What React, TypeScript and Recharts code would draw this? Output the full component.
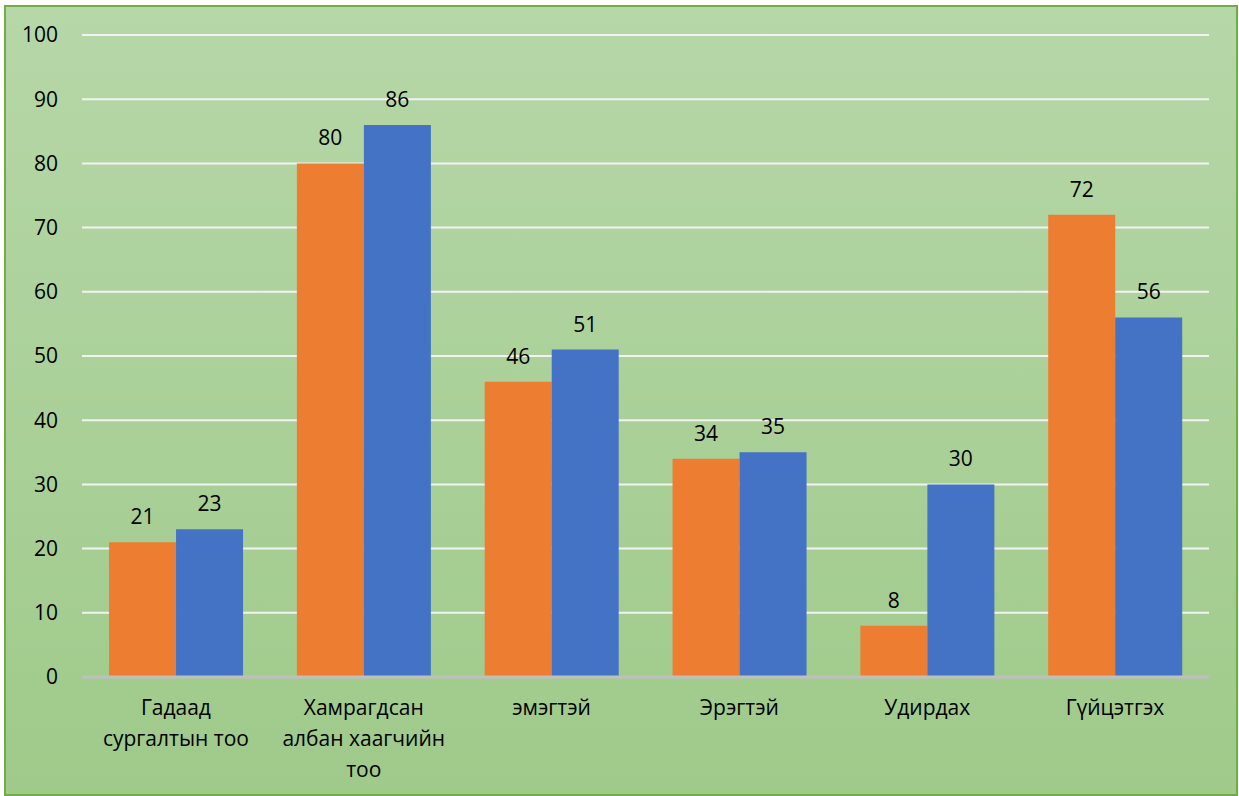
import React from 'react'
import { BarChart, Bar, XAxis, YAxis, CartesianGrid, LabelList } from 'recharts'

const categories = [
    'Гадаад\nсургалтын тоо',
    'Хамрагдсан\nалбан хаагчийн\nтоо',
    'эмэгтэй',
    'Эрэгтэй',
    'Удирдах',
    'Гүйцэтгэх',
]
const series1 = [21, 80, 46, 34, 8, 72]
const series2 = [23, 86, 51, 35, 30, 56]
const yTicks = [0, 10, 20, 30, 40, 50, 60, 70, 80, 90, 100]

const data = categories.map((name, i) => ({ name, s1: series1[i], s2: series2[i] }))

const FONT = '"Open Sans", "Noto Sans", sans-serif'
const FS = 21

const CategoryTick = ({ x, y, payload }: any) => {
    const lines = String(payload.value).split('\n')
    return (
        <text x={x} y={y} textAnchor="middle" fill="#000" fontSize={FS} fontFamily={FONT}>
            {lines.map((line, i) => (
                <tspan key={i} x={x} dy={i === 0 ? 30 : 31}>{line}</tspan>
            ))}
        </text>
    )
}

export default function App() {
    return (
        <div
            style={{
                position: 'fixed',
                left: 4,
                top: 5,
                width: 1234,
                height: 791,
                boxSizing: 'border-box',
                border: '2px solid #70AD47',
                background: 'linear-gradient(to bottom, #B6D7A8, #9FCA8A)',
            }}
        >
            <div style={{ position: 'absolute', left: -2, top: -2 }}>
                <BarChart
                    width={1234}
                    height={791}
                    data={data}
                    margin={{ top: 30, right: 29, bottom: 19, left: 0 }}
                    barCategoryGap="14.4%"
                    barGap={0}
                >
                    <CartesianGrid vertical={false} stroke="#F2F2F2" strokeWidth={2} />
                    <XAxis
                        dataKey="name"
                        height={100}
                        axisLine={{ stroke: '#BFBFBF', strokeWidth: 3 }}
                        tickLine={false}
                        tick={<CategoryTick />}
                        interval={0}
                    />
                    <YAxis
                        domain={[0, 100]}
                        ticks={yTicks}
                        width={78}
                        axisLine={false}
                        tickLine={false}
                        tickMargin={18}
                        tick={{ fill: '#000', fontSize: FS, fontFamily: FONT }}
                    />
                    <Bar dataKey="s1" name="Цуврал 1" fill="#ED7D31" isAnimationActive={false}>
                        <LabelList dataKey="s1" position="top" offset={18} fill="#000" fontSize={FS} fontFamily={FONT} />
                    </Bar>
                    <Bar dataKey="s2" name="Цуврал 2" fill="#4472C4" isAnimationActive={false}>
                        <LabelList dataKey="s2" position="top" offset={18} fill="#000" fontSize={FS} fontFamily={FONT} />
                    </Bar>
                </BarChart>
            </div>
        </div>
    )
}
